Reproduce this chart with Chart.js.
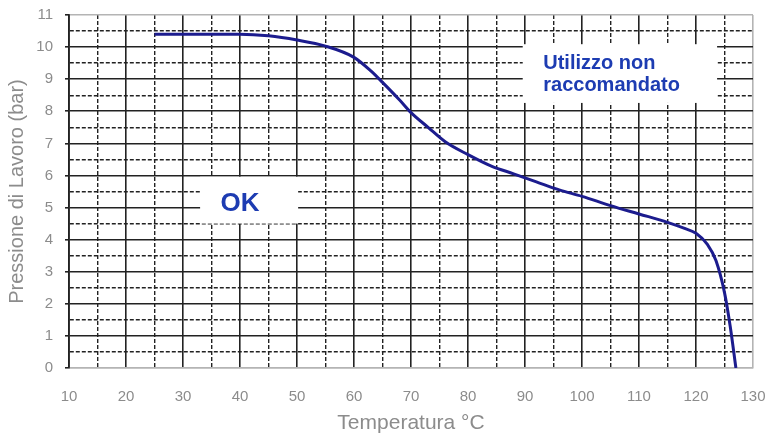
<!DOCTYPE html>
<html>
<head>
<meta charset="utf-8">
<script src="https://cdn.jsdelivr.net/npm/chart.js@4.4.1/dist/chart.umd.min.js"></script>
<style>
  html, body { margin: 0; padding: 0; background: #fff; }
  #wrap { width: 769px; height: 433px; }
</style>
</head>
<body>
<div id="wrap"><canvas id="chart" width="769" height="433"></canvas></div>
<script>
// --- dati ---
const temperature = [25, 30, 35, 40, 45, 50, 55, 60, 63, 65, 68, 70, 73, 76, 80, 84, 88, 92, 96, 100, 105, 110, 115, 118, 120, 122, 123.5, 125, 126, 127];
const pressione = [10.4, 10.4, 10.4, 10.4, 10.35, 10.22, 10.03, 9.68, 9.25, 8.9, 8.35, 7.96, 7.5, 7.05, 6.65, 6.3, 6.05, 5.8, 5.55, 5.35, 5.06, 4.8, 4.54, 4.35, 4.2, 3.85, 3.35, 2.35, 1.3, 0];
const xTicks = [10, 20, 30, 40, 50, 60, 70, 80, 90, 100, 110, 120, 130];
const yTicks = [0, 1, 2, 3, 4, 5, 6, 7, 8, 9, 10, 11];

// --- riquadri di testo (coordinate in unità del grafico) ---
const boxOk = { x1: 33, x2: 50.2, y1: 5.96, y2: 4.5 };
const boxNo = { x1: 89.6, x2: 123.7, y1: 10.09, y2: 8.26 };

const BLUE = '#1d3cb2';
const GREY = '#8c8c8c';
const FONT = '"Liberation Sans", Arial, sans-serif';

const boxesPlugin = {
  id: 'boxes',
  beforeDatasetsDraw(chart) {
    const { ctx, scales: { x, y } } = chart;
    ctx.save();
    ctx.fillStyle = '#fff';
    [boxOk, boxNo].forEach(b => {
      const px1 = x.getPixelForValue(b.x1), px2 = x.getPixelForValue(b.x2);
      const py1 = y.getPixelForValue(b.y1), py2 = y.getPixelForValue(b.y2);
      ctx.fillRect(px1, py1, px2 - px1, py2 - py1);
    });
    ctx.fillStyle = BLUE;
    ctx.font = 'bold 26px ' + FONT;
    ctx.textAlign = 'center';
    ctx.textBaseline = 'middle';
    ctx.fillText('OK', x.getPixelForValue(40), y.getPixelForValue(5.12));
    ctx.font = 'bold 20px ' + FONT;
    ctx.textAlign = 'left';
    ctx.fillText('Utilizzo non', x.getPixelForValue(93.2), y.getPixelForValue(9.5));
    ctx.fillText('raccomandato', x.getPixelForValue(93.2), y.getPixelForValue(8.79));
    ctx.restore();
  }
};

const punti = temperature.map((t, i) => ({ x: t, y: pressione[i] }));

new Chart(document.getElementById('chart'), {
  type: 'line',
  data: {
    datasets: [{
      data: punti,
      borderColor: '#1c1c8e',
      borderWidth: 3,
      pointRadius: 0,
      cubicInterpolationMode: 'monotone',
      fill: false
    }]
  },
  options: {
    responsive: false,
    animation: false,
    layout: { padding: { top: 15, right: 16, left: 0, bottom: 0 } },
    plugins: { legend: { display: false }, tooltip: { enabled: false } },
    scales: {
      x: {
        type: 'linear',
        min: 10, max: 130,
        afterFit: s => { s.height = 65; s.paddingLeft = 0; s.paddingRight = 0; },
        ticks: {
          stepSize: 5,
          autoSkip: false,
          maxRotation: 0,
          padding: 20,
          color: GREY,
          font: { family: FONT, size: 15 },
          callback: v => xTicks.includes(v) ? v : ''
        },
        grid: {
          drawTicks: false,
          color: c => c.tick.value === 130 ? '#b4b4b4' : '#222',
          lineWidth: c => c.tick.value % 10 === 0 ? 1.6 : 1.4
        },
        border: {
          color: '#b4b4b4', width: 1.6,
          dash: c => (c.tick && c.tick.value % 10 !== 0) ? [4, 2] : []
        },
        title: {
          display: true, text: 'Temperatura °C', color: GREY,
          font: { family: FONT, size: 21, lineHeight: 0.95 },
          padding: { top: 0, bottom: 0 }
        }
      },
      y: {
        min: 0, max: 11,
        afterFit: s => { s.width = 69; s.paddingTop = 0; s.paddingBottom = 0; },
        ticks: {
          stepSize: 0.5,
          autoSkip: false,
          padding: 12,
          color: GREY,
          font: { family: FONT, size: 15 },
          callback: v => yTicks.includes(v) ? v : ''
        },
        grid: {
          tickLength: 4,
          tickColor: c => c.tick.value % 1 === 0 ? '#222' : 'rgba(0,0,0,0)',
          color: c => (c.tick.value === 11 || c.tick.value === 0) ? '#b4b4b4' : '#222',
          lineWidth: c => c.tick.value % 1 === 0 ? 1.6 : 1.4
        },
        border: {
          color: '#222', width: 1.8,
          dash: c => (c.tick && c.tick.value % 1 !== 0) ? [4, 2] : []
        },
        title: {
          display: true, text: 'Pressione di Lavoro (bar)', color: GREY,
          font: { family: FONT, size: 20 },
          padding: { top: 5, bottom: 0 }
        }
      }
    }
  },
  plugins: [boxesPlugin]
});
</script>
</body>
</html>
